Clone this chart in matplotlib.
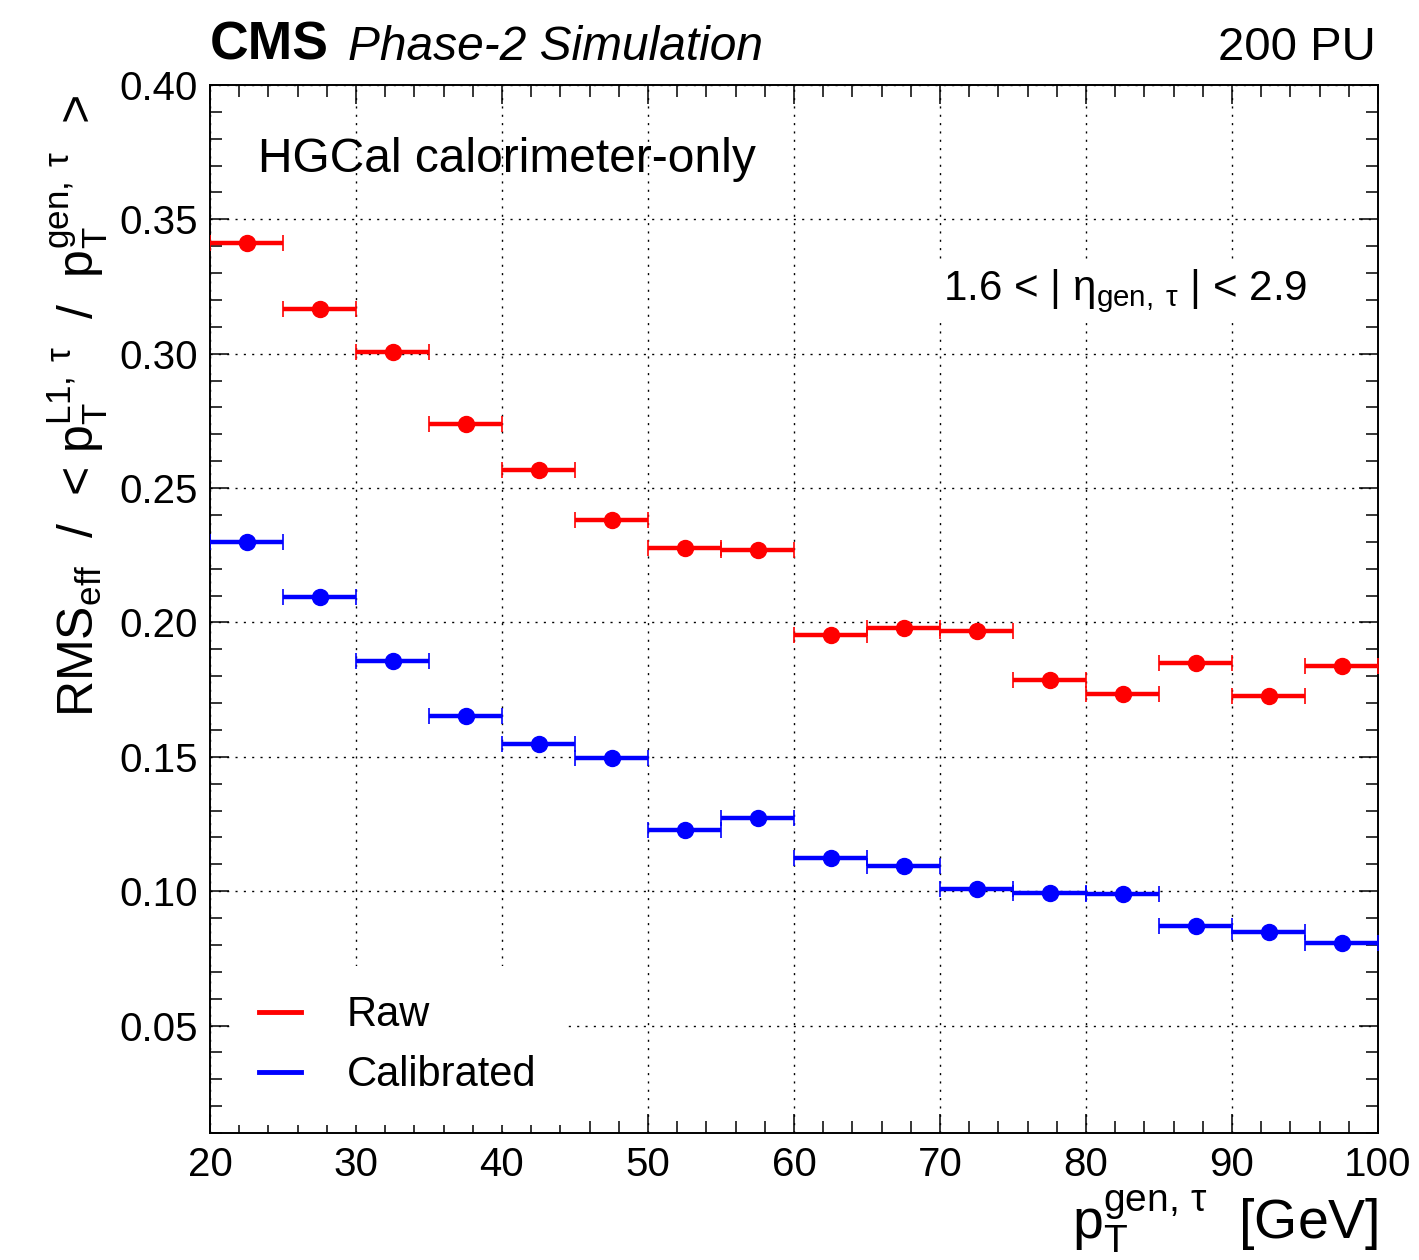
import matplotlib
matplotlib.use('Agg')
import matplotlib.pyplot as plt
from matplotlib.lines import Line2D
from matplotlib.ticker import MultipleLocator

# ---------------- data ----------------
pt_center = [22.5, 27.5, 32.5, 37.5, 42.5, 47.5, 52.5, 57.5,
             62.5, 67.5, 72.5, 77.5, 82.5, 87.5, 92.5, 97.5]
pt_halfwidth = [2.5] * 16
raw_rms = [0.3413, 0.3168, 0.3008, 0.2737, 0.2566, 0.2380, 0.2276, 0.2269,
           0.1953, 0.1979, 0.1968, 0.1786, 0.1734, 0.1849, 0.1726, 0.1838]
cal_rms = [0.2298, 0.2094, 0.1856, 0.1652, 0.1548, 0.1496, 0.1228, 0.1273,
           0.1124, 0.1094, 0.1009, 0.0994, 0.0990, 0.0872, 0.0849, 0.0808]
series_labels = ['Raw', 'Calibrated']
series_colors = ['#ff0000', '#0000ff']
y_ticks = [0.05, 0.10, 0.15, 0.20, 0.25, 0.30, 0.35, 0.40]
x_ticks = [20, 30, 40, 50, 60, 70, 80, 90, 100]

# ---------------- style ----------------
plt.rcParams['font.family'] = ['Liberation Sans', 'DejaVu Sans']
plt.rcParams['mathtext.fontset'] = 'custom'
plt.rcParams['mathtext.rm'] = 'Liberation Sans'
plt.rcParams['mathtext.it'] = 'Liberation Sans:italic'
plt.rcParams['mathtext.bf'] = 'Liberation Sans:bold'
plt.rcParams['mathtext.default'] = 'regular'

fig = plt.figure(figsize=(14.19, 12.6), dpi=100)
ax = fig.add_axes([210 / 1419, 1 - 1133 / 1260, 1168 / 1419, 1048 / 1260])

for vals, col in zip([raw_rms, cal_rms], series_colors):
    ax.errorbar(pt_center, vals, xerr=pt_halfwidth, fmt='o', color=col,
                ms=11.5, elinewidth=3.2, capsize=6, capthick=1.2, zorder=3)

ax.set_xlim(20, 100)
ax.set_ylim(0.01, 0.40)
ax.set_xticks(x_ticks)
ax.set_yticks(y_ticks)
ax.set_yticklabels([f'{v:.2f}' for v in y_ticks])
ax.xaxis.set_minor_locator(MultipleLocator(2))
ax.yaxis.set_minor_locator(MultipleLocator(0.01))
ax.tick_params(which='both', direction='in', top=True, right=True,
               labelsize=29, width=1.1)
ax.tick_params(which='major', length=14)
ax.tick_params(which='minor', length=8.5)
ax.tick_params(axis='x', pad=9)
ax.tick_params(axis='y', pad=9)
for s in ax.spines.values():
    s.set_linewidth(1.4)

ax.grid(True, which='major', color='black', linestyle=(0, (1.5, 4.5)),
        linewidth=1.0, zorder=0)
ax.set_axisbelow(True)

ax.set_ylabel(r'RMS$_{eff}$  /  < p$_{T}^{L1,\;τ}$  /  p$_{T}^{gen,\;τ}$  >',
              fontsize=36, loc='top')
ax.yaxis.set_label_coords(-0.086, 0.99)
ax.set_xlabel(r'p$_{T}^{gen,\,τ}$  [GeV]', fontsize=40, loc='right')
ax.xaxis.set_label_coords(1.0, -0.053)

handles = [Line2D([], [], color=c, lw=3.5) for c in series_colors]
ax.legend(handles, series_labels, loc='lower left', bbox_to_anchor=(0.017, 0.008),
          borderaxespad=0, frameon=True, fancybox=False, edgecolor='none',
          facecolor='white', framealpha=1, fontsize=30, handlelength=1.0,
          handletextpad=1.1, labelspacing=0.48, borderpad=0.7)

ax.text(0, 1.024, 'CMS', transform=ax.transAxes, fontsize=38.5,
        fontweight='bold', ha='left', va='baseline')
ax.text(0.118, 1.024, 'Phase-2 Simulation', transform=ax.transAxes,
        fontsize=34.5, style='italic', ha='left', va='baseline')
ax.text(0.998, 1.024, '200 PU', transform=ax.transAxes, fontsize=34,
        ha='right', va='baseline')
ax.text(0.041, 0.917, 'HGCal calorimeter-only', transform=ax.transAxes,
        fontsize=34.5, ha='left', va='baseline')
ax.text(0.6276, 0.795, r'1.6 < | $η_{gen,\;τ}$ | < 2.9', transform=ax.transAxes,
        fontsize=30.3, ha='left', va='baseline', zorder=4,
        bbox=dict(facecolor='white', edgecolor='none', pad=6))

fig.savefig('out.png', dpi=100)
